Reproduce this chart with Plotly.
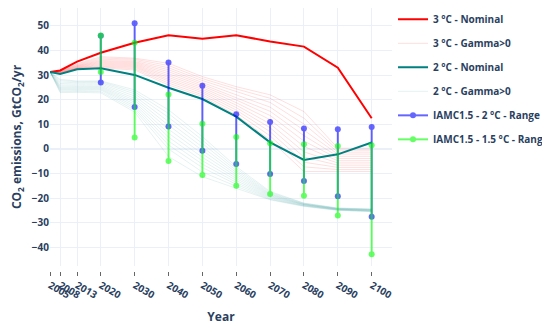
import plotly.graph_objects as go

years = [2005, 2008, 2013, 2020, 2030, 2040, 2050, 2060, 2070, 2080, 2090, 2100]
tick_vals = [2005, 2008, 2013, 2020, 2030, 2040, 2050, 2060, 2070, 2080, 2090, 2100]

nominal_3c = [31.3, 31.9, 35.5, 39.1, 43.2, 46.2, 44.8, 46.2, 43.7, 41.6, 33.0, 12.5]
nominal_2c = [31.3, 30.5, 32.4, 32.8, 30.1, 24.9, 20.3, 13.1, 2.7, -4.5, -2.2, 2.6]

gamma_3c = [
    [31.3, 31.8, 34.6, 37.5, 36.9, 34.8, 29.4, 25.3, 22.0, 15.2, 0.3, 0.3],
    [31.3, 31.7, 34.3, 37.0, 36.5, 33.9, 28.6, 24.4, 20.6, 12.5, -0.5, -0.5],
    [31.3, 31.6, 34.0, 36.5, 36.0, 33.0, 27.8, 23.2, 18.9, 10.1, -1.3, -1.3],
    [31.3, 31.5, 33.8, 36.0, 35.5, 32.2, 27.0, 22.0, 17.0, 7.6, -2.1, -2.1],
    [31.3, 31.4, 33.6, 35.6, 35.1, 31.4, 26.3, 20.9, 15.3, 5.4, -3.0, -3.0],
    [31.3, 31.3, 33.4, 35.2, 34.7, 30.6, 25.6, 19.9, 13.6, 3.2, -3.9, -3.9],
    [31.3, 31.2, 33.2, 34.8, 34.3, 29.8, 24.9, 18.8, 11.9, 1.0, -4.8, -4.8],
    [31.3, 31.1, 33.0, 34.4, 33.9, 29.0, 24.2, 17.8, 10.2, -1.2, -5.7, -5.7],
    [31.3, 31.0, 32.9, 34.0, 33.5, 28.3, 23.5, 16.8, 8.6, -3.3, -6.6, -6.6],
    [31.3, 30.9, 32.8, 33.6, 33.1, 27.6, 22.8, 15.8, 7.0, -5.4, -7.5, -7.5],
    [31.3, 30.8, 32.7, 33.3, 32.6, 26.8, 22.0, 14.8, 5.3, -7.3, -8.4, -8.4],
    [31.3, 30.6, 32.5, 32.9, 32.1, 26.0, 21.3, 13.8, 3.7, -9.2, -9.2, -9.2],
]

gamma_2c = [
    [31.3, 28.3, 27.6, 27.7, 24.0, 15.9, 5.0, -7.2, -17.3, -22.0, -24.0, -24.4],
    [31.3, 27.8, 27.3, 27.4, 23.2, 14.4, 3.6, -8.0, -17.7, -22.1, -24.1, -24.5],
    [31.3, 27.2, 26.9, 27.0, 22.4, 12.8, 2.2, -8.8, -18.1, -22.3, -24.2, -24.6],
    [31.3, 26.6, 26.4, 26.5, 21.5, 11.2, 0.8, -9.6, -18.4, -22.4, -24.3, -24.7],
    [31.3, 26.0, 25.9, 26.0, 20.6, 9.6, -0.6, -10.4, -18.7, -22.5, -24.4, -24.8],
    [31.3, 25.5, 25.4, 25.5, 19.8, 8.0, -2.0, -11.2, -19.0, -22.6, -24.5, -24.9],
    [31.3, 25.0, 25.0, 25.1, 19.0, 6.4, -3.4, -12.0, -19.3, -22.7, -24.5, -25.0],
    [31.3, 24.6, 24.6, 24.7, 18.2, 4.8, -4.8, -12.8, -19.6, -22.8, -24.6, -25.1],
    [31.3, 24.2, 24.2, 24.3, 17.4, 3.2, -6.2, -13.6, -19.9, -23.0, -24.7, -25.2],
    [31.3, 23.8, 23.8, 23.9, 16.6, 1.6, -7.6, -14.4, -20.2, -23.1, -24.8, -25.3],
    [31.3, 23.3, 23.4, 23.3, 15.8, 0.0, -9.4, -15.2, -20.5, -23.2, -24.9, -25.4],
    [31.3, 22.9, 23.0, 22.8, 15.0, -3.1, -11.3, -16.0, -20.7, -23.4, -25.0, -25.5],
]

range_years = [2020, 2030, 2040, 2050, 2060, 2070, 2080, 2090, 2100]
iamc_2c_min = [27.0, 17.0, 9.1, -0.7, -6.1, -10.2, -13.0, -19.2, -27.6]
iamc_2c_max = [46.0, 51.1, 35.1, 25.7, 14.1, 11.0, 8.3, 8.0, 8.9]
iamc_15c_min = [31.3, 4.6, -4.9, -10.6, -15.0, -18.3, -19.0, -27.1, -42.8]
iamc_15c_max = [46.1, 43.2, 22.1, 10.2, 4.9, 2.3, 1.9, 1.2, 1.5]

fig = go.Figure()

fig.add_trace(go.Scatter(x=years, y=nominal_3c, mode="lines", name="3 °C - Nominal",
                         line=dict(color="red", width=2), legendgroup="g1"))
for i, row in enumerate(gamma_3c):
    fig.add_trace(go.Scatter(x=years, y=row, mode="lines", name="3 °C - Gamma>0",
                             line=dict(color="rgba(255,0,0,0.13)", width=1),
                             legendgroup="g2", showlegend=(i == 0)))
fig.add_trace(go.Scatter(x=years, y=nominal_2c, mode="lines", name="2 °C - Nominal",
                         line=dict(color="rgb(0,128,128)", width=2), legendgroup="g3"))
for i, row in enumerate(gamma_2c):
    fig.add_trace(go.Scatter(x=years, y=row, mode="lines", name="2 °C - Gamma>0",
                             line=dict(color="rgba(0,128,128,0.1)", width=1),
                             legendgroup="g4", showlegend=(i == 0)))


def range_xy(lo, hi):
    xs, ys = [], []
    for yr, a, b in zip(range_years, lo, hi):
        xs += [yr, yr, None]
        ys += [a, b, None]
    return xs, ys


x2, y2 = range_xy(iamc_2c_min, iamc_2c_max)
fig.add_trace(go.Scatter(x=x2, y=y2, mode="lines+markers", name="IAMC1.5 - 2 °C - Range",
                         line=dict(color="blue", width=2), marker=dict(color="blue", size=6),
                         opacity=0.6, legendgroup="g5"))
x15, y15 = range_xy(iamc_15c_min, iamc_15c_max)
fig.add_trace(go.Scatter(x=x15, y=y15, mode="lines+markers", name="IAMC1.5 - 1.5 °C - Range",
                         line=dict(color="lime", width=2), marker=dict(color="lime", size=6),
                         opacity=0.6, legendgroup="g6"))

fig.update_layout(
    template="plotly_white",
    width=542, height=317,
    margin=dict(l=42, r=158, t=0, b=54, autoexpand=False),
    font=dict(family="Open Sans", size=10, color="#2a3f5f", weight="bold"),
    legend=dict(font=dict(size=10), tracegroupgap=5, x=1.003, y=1.012, yanchor="top"),
    xaxis=dict(
        title=dict(text="Year", font=dict(size=12), standoff=13),
        range=[2005, 2106],
        tickmode="array", tickvals=tick_vals,
        tickangle=30,
        ticks="outside", ticklen=4, tickcolor="#666",
        anchor="free", position=0,
        showgrid=True, zeroline=False, automargin=False,
    ),
    yaxis=dict(
        title=dict(text="CO<sub>2</sub> emissions, GtCO<sub>2</sub>/yr", font=dict(size=12)),
        range=[-47.6, 57.3],
        dtick=10,
        domain=[0.019, 1],
        zeroline=True, automargin=False,
    ),
    showlegend=True,
)

fig.write_html("out.html")
